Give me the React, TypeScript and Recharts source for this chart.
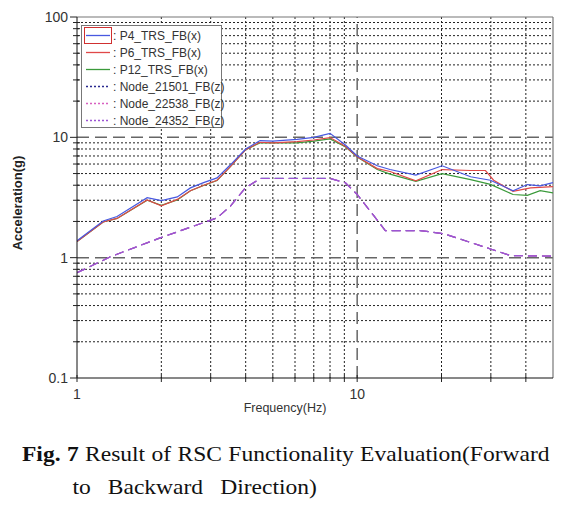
import React from 'react'
import { LineChart, Line, XAxis, YAxis, CartesianGrid, ReferenceLine } from 'recharts'

// P-series share most break frequencies
const pFreq = [1, 1.24, 1.39, 1.78, 2.0, 2.28, 2.54, 2.83, 3.16, 3.5, 4.0, 4.5, 5.0, 6.1, 7.0, 8.0, 9.1, 10, 11.8, 13.1, 16.2, 20.1, 25.4, 29.9, 36, 40.5, 45, 50]
const p4Acc = [1.38, 2.02, 2.2, 3.15, 2.98, 3.2, 3.8, 4.2, 4.6, 5.8, 8.0, 9.4, 9.3, 9.6, 10.0, 10.8, 8.6, 7.0, 5.8, 5.4, 4.85, 5.8, 4.7, 4.4, 3.6, 4.05, 3.95, 4.2]
const p12Acc = [1.36, 1.98, 2.12, 3.0, 2.72, 3.02, 3.6, 3.98, 4.38, 5.6, 7.9, 9.0, 9.0, 9.0, 9.3, 9.7, 8.3, 6.85, 5.4, 4.95, 4.3, 5.0, 4.45, 4.06, 3.35, 3.3, 3.6, 3.46]

const p6Freq = [1, 1.24, 1.39, 1.78, 2.0, 2.28, 2.54, 2.83, 3.16, 3.5, 4.0, 4.5, 5.0, 6.1, 7.0, 8.0, 9.1, 10, 11.8, 13.1, 16.2, 20.1, 25.4, 28.7, 30.7, 36, 41.6, 50]
const p6Acc = [1.36, 1.98, 2.12, 3.02, 2.7, 3.05, 3.6, 4.0, 4.4, 5.6, 7.9, 9.1, 9.0, 9.2, 9.5, 9.95, 8.4, 6.9, 5.5, 5.2, 4.35, 5.4, 5.3, 5.3, 4.4, 3.55, 3.8, 3.9]

const nodeFreq = [1, 1.32, 1.98, 3.16, 3.53, 3.99, 4.52, 8.0, 9.08, 10, 11.5, 12.6, 16.8, 20.4, 30.3, 35.3, 50]
const node21501Acc = [0.75, 1.02, 1.46, 2.14, 2.68, 3.81, 4.56, 4.56, 4.19, 3.35, 2.21, 1.68, 1.68, 1.58, 1.17, 1.04, 1.03]
const node22538Acc = [0.75, 1.02, 1.46, 2.14, 2.68, 3.81, 4.55, 4.55, 4.19, 3.35, 2.21, 1.68, 1.68, 1.58, 1.17, 1.04, 1.03]
const node24352Acc = [0.75, 1.02, 1.46, 2.14, 2.68, 3.81, 4.55, 4.55, 4.19, 3.35, 2.21, 1.68, 1.68, 1.58, 1.17, 1.04, 1.03]

const xTicks = [1, 2, 3, 4, 5, 6, 7, 8, 9, 10, 20, 30, 40]
const yTicks = [0.1, 0.2, 0.3, 0.4, 0.5, 0.6, 0.7, 0.8, 0.9, 1, 2, 3, 4, 5, 6, 7, 8, 9, 10, 20, 30, 40, 50, 60, 70, 80, 90, 100]
const xMajor = [1, 10]
const yMajor = [0.1, 1, 10, 100]
const xMinorGrid = [2, 3, 4, 5, 6, 7, 8, 9, 20, 30, 40]
const yMinorGrid = [0.2, 0.3, 0.4, 0.5, 0.6, 0.7, 0.8, 0.9, 2, 3, 4, 5, 6, 7, 8, 9, 20, 30, 40, 50, 60, 70, 80, 90]

const pairs = (f: number[], a: number[]) => f.map((x, i) => ({ f: x, a: a[i] }))

// legend order; drawing order is reversed so the P lines sit on top
const series = [
  { name: 'P4_TRS_FB(x)', data: pairs(pFreq, p4Acc), color: '#4858e0', dash: undefined, legendDash: undefined },
  { name: 'P6_TRS_FB(x)', data: pairs(p6Freq, p6Acc), color: '#e04848', dash: undefined, legendDash: undefined },
  { name: 'P12_TRS_FB(x)', data: pairs(pFreq, p12Acc), color: '#3a9a3a', dash: undefined, legendDash: undefined },
  { name: 'Node_21501_FB(z)', data: pairs(nodeFreq, node21501Acc), color: '#2a2a90', dash: '9 5', legendDash: '2 2' },
  { name: 'Node_22538_FB(z)', data: pairs(nodeFreq, node22538Acc), color: '#d860c0', dash: '9 5', legendDash: '2 2' },
  { name: 'Node_24352_FB(z)', data: pairs(nodeFreq, node24352Acc), color: '#9c55d4', dash: '9 5', legendDash: '2 2' },
]
const drawOrder = [3, 4, 5, 2, 1, 0].map((i) => series[i])

const font = "'Liberation Sans', Arial, sans-serif"

function XTick(props: any) {
  const { x, y, payload } = props
  const v = payload.value
  return (
    <g>
      <line x1={x} x2={x} y1={y - 3} y2={y + 4} stroke="#222" />
      {xMajor.includes(v) && (
        <text x={x} y={y + 21} textAnchor="middle" fontSize={14} fill="#333" fontFamily={font}>{v}</text>
      )}
    </g>
  )
}

function YTick(props: any) {
  const { x, y, payload } = props
  const v = payload.value
  const major = yMajor.includes(v)
  return (
    <g>
      <line x1={major ? x - 7 : x - 4} x2={major ? x : x + 3} y1={y} y2={y} stroke="#222" />
      {major && (
        <text x={x - 9} y={y + 5} textAnchor="end" fontSize={14} fill="#333" fontFamily={font}>{v}</text>
      )}
    </g>
  )
}

function LegendBox() {
  return (
    <div style={{ position: 'absolute', left: 81, top: 25, width: 139, height: 101, border: '1.5px solid #777', background: '#fff', fontFamily: font, fontSize: 12, color: '#333' }}>
      {series.map((s, i) => (
        <div key={s.name} style={{ position: 'absolute', left: 2, top: 1 + i * 17, height: 17, display: 'flex', alignItems: 'center', whiteSpace: 'nowrap' }}>
          <svg width={28} height={17} style={{ display: 'block' }}>
            {i === 0 && <rect x={0.5} y={0.5} width={27} height={16} fill="none" stroke="#d03030" strokeWidth={1} />}
            <line x1={2} x2={26} y1={8.5} y2={8.5} stroke={s.color} strokeWidth={1.3} strokeDasharray={s.legendDash} />
          </svg>
          <span style={{ marginLeft: 1 }}>: {s.name}</span>
        </div>
      ))}
    </div>
  )
}

export default function App() {
  return (
    <div style={{ position: 'absolute', left: 0, top: 0, width: 580, height: 511, background: '#fff' }}>
      <LineChart width={580} height={420} margin={{ top: 17, right: 27, left: 0, bottom: 0 }}>
        <CartesianGrid horizontalValues={yMinorGrid} verticalValues={xMinorGrid} stroke="#222" strokeDasharray="2 2" />
        <XAxis dataKey="f" type="number" scale="log" domain={[1, 50]} allowDataOverflow ticks={xTicks} interval={0}
          tick={<XTick />} tickLine={false} tickSize={0} tickMargin={0} height={42} axisLine={{ stroke: '#111' }} />
        <YAxis dataKey="a" type="number" scale="log" domain={[0.1, 100]} allowDataOverflow ticks={yTicks} interval={0}
          tick={<YTick />} tickLine={false} tickSize={0} tickMargin={0} width={77} axisLine={{ stroke: '#111' }} />
        <ReferenceLine y={1} stroke="#666" strokeWidth={1.5} strokeDasharray="12 6" />
        <ReferenceLine y={10} stroke="#666" strokeWidth={1.5} strokeDasharray="12 6" />
        <ReferenceLine x={10} stroke="#666" strokeWidth={1.5} strokeDasharray="12 6" />
        <ReferenceLine y={100} stroke="#777" strokeWidth={1.2} />
        <ReferenceLine x={50} stroke="#777" strokeWidth={1.2} />
        {drawOrder.map((s) => (
          <Line key={s.name} data={s.data} dataKey="a" name={s.name} type="linear" stroke={s.color} strokeWidth={1.2}
            strokeDasharray={s.dash} dot={false} activeDot={false} isAnimationActive={false} />
        ))}
      </LineChart>
      <LegendBox />
      <svg width={580} height={420} style={{ position: 'absolute', left: 0, top: 0, pointerEvents: 'none' }}>
        <text x={0} y={0} transform="translate(22,203) rotate(-90)" textAnchor="middle" fontSize={13} fontWeight="bold" fill="#222" fontFamily={font}>Acceleration(g)</text>
        <text x={285} y={412} textAnchor="middle" fontSize={12.5} fill="#333" fontFamily={font}>Frequency(Hz)</text>
      </svg>
      <div style={{ position: 'absolute', left: 22, top: 438, width: 471, transform: 'scaleX(1.12)', transformOrigin: '0 0', fontFamily: "'Liberation Serif', 'Times New Roman', serif", fontSize: 21, lineHeight: '33px', color: '#111' }}>
        <div style={{ textAlign: 'justify', textAlignLast: 'justify' }}>
          <b>Fig. 7</b> Result of RSC Functionality Evaluation(Forward
        </div>
        <div style={{ paddingLeft: 45, wordSpacing: 10 }}>to Backward Direction)</div>
      </div>
    </div>
  )
}
